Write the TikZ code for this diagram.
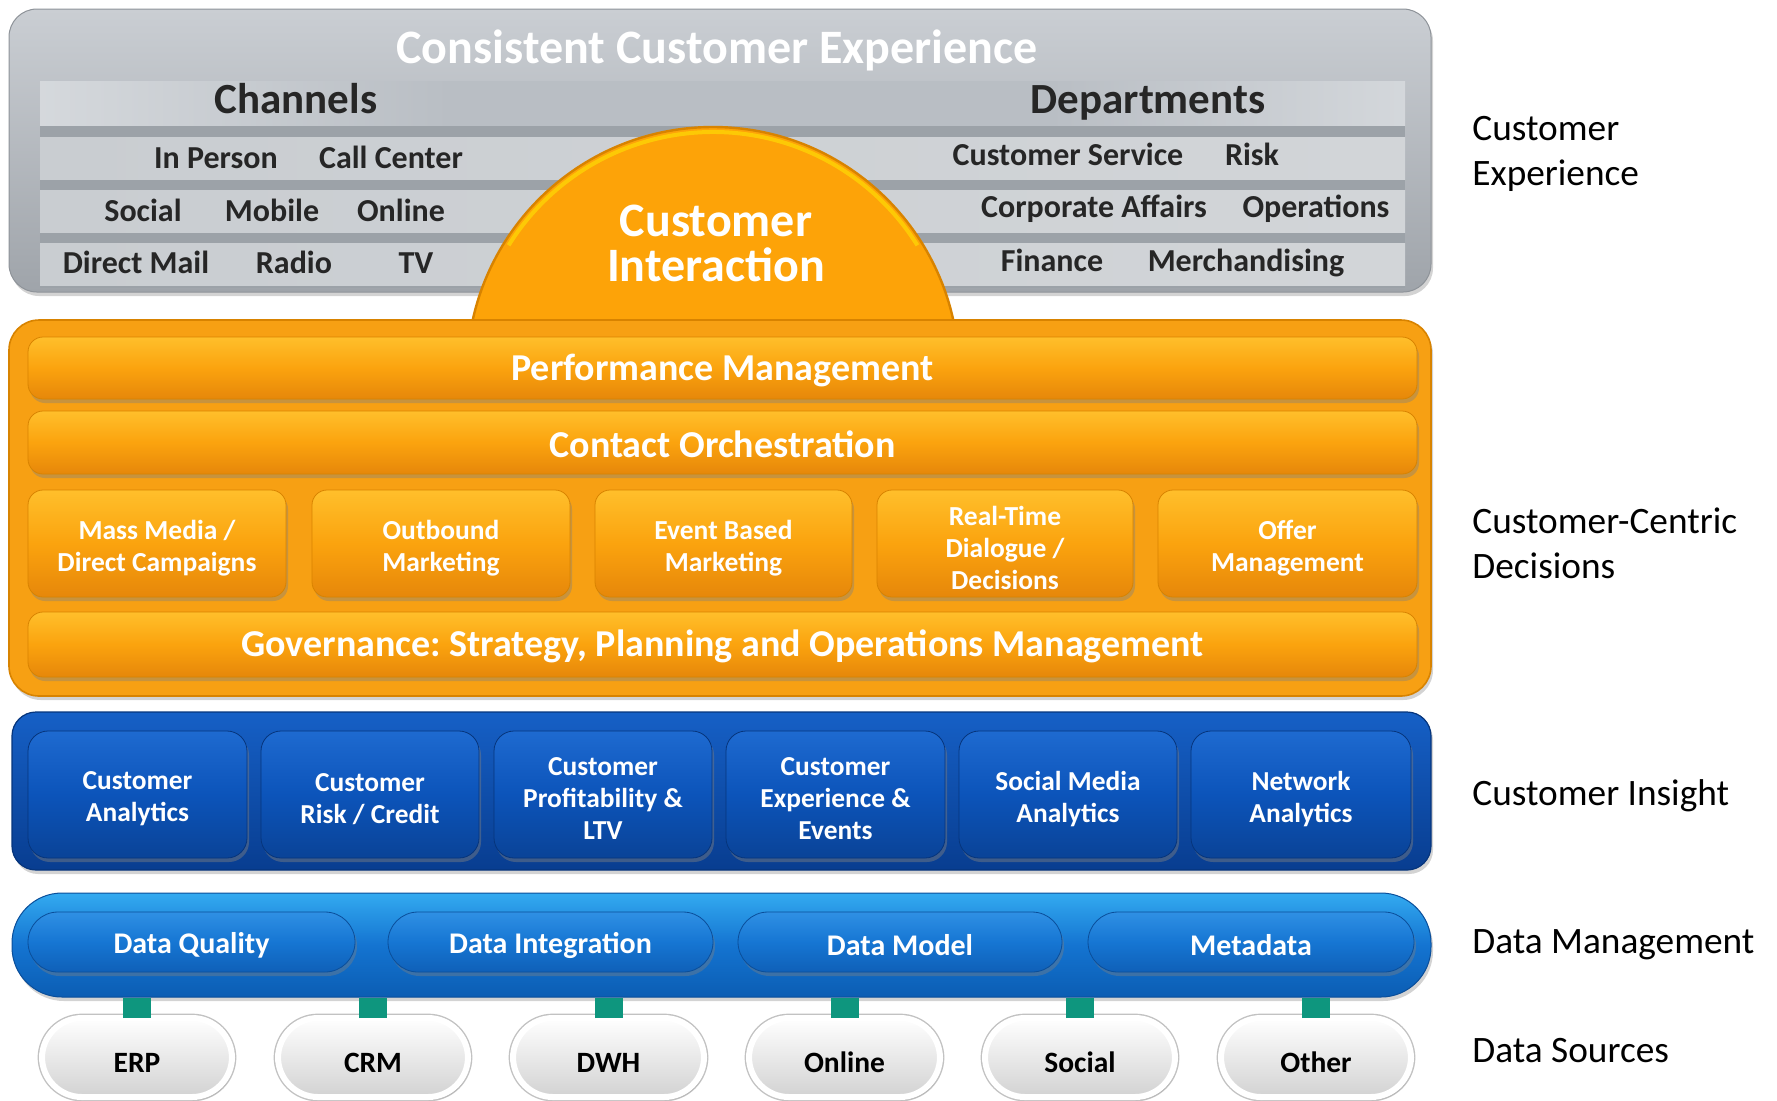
\documentclass[tikz,border=0pt]{standalone}
\usepackage{fontspec}
\setmainfont{Carlito}
\usetikzlibrary{shadows}
\frenchspacing

% palette
\definecolor{gTop}{HTML}{CACED3}
\definecolor{gBot}{HTML}{9FA4AA}
\definecolor{gEdge}{HTML}{8E9399}
\definecolor{gBand}{HTML}{9CA2A8}
\definecolor{gMidBand}{HTML}{B9BEC4}
\definecolor{gHi}{HTML}{E0E3E6}
\definecolor{gStripL}{HTML}{C9CDD1}
\definecolor{gStripR}{HTML}{D2D5D8}
\definecolor{gText}{HTML}{262626}
\definecolor{oMain}{HTML}{F7A013}
\definecolor{oEdge}{HTML}{D88300}
\definecolor{oTop}{HTML}{FFBF2B}
\definecolor{oMid}{HTML}{FBA30E}
\definecolor{oBot}{HTML}{E6870A}
\definecolor{oDome}{HTML}{FDA308}
\definecolor{bTop}{HTML}{1660C6}
\definecolor{bBot}{HTML}{083D90}
\definecolor{bEdge}{HTML}{06357C}
\definecolor{bbTop}{HTML}{1E6AD0}
\definecolor{bbMid}{HTML}{0C54BA}
\definecolor{bbBot}{HTML}{0A4397}
\definecolor{dTop}{HTML}{33AAF0}
\definecolor{dMid}{HTML}{1474D1}
\definecolor{dBot}{HTML}{0B5DB3}
\definecolor{dpTop}{HTML}{2F90E4}
\definecolor{dpMid}{HTML}{1676D3}
\definecolor{dpBot}{HTML}{0F60B8}
\definecolor{dpEdge}{HTML}{0A4E9A}
\definecolor{teal}{HTML}{0E967E}
\definecolor{sBot}{HTML}{D2D2D2}
\definecolor{sRim}{HTML}{C2C2C2}

% header band: light behind "Channels" and behind "Departments"
\pgfdeclarehorizontalshading{headband}{100bp}{%
  color(0bp)=(gMidBand); color(19bp)=(gHi); color(40bp)=(gMidBand);
  color(62bp)=(gMidBand); color(81bp)=(gHi); color(100bp)=(gMidBand)}

% panel from corner (x1,y1) to corner (x2,y2), in picture units
\newcommand\panel[6]{%
  \node[#1, minimum width={(#5-#3)*0.5pt}, minimum height={(#6-#4)*0.5pt}]
    (#2) at ({(#3+#5)/2},{(#4+#6)/2}) {};}
% labelled box: the box, then its caption centred on it
\newcommand\lbox[7]{%
  \panel{#1}{#2}{#3}{#4}{#5}{#6}
  \node[#1 label] (#2-label) at (#2.center) {#7};}

\tikzset{
  every node/.style={inner sep=0pt},
  soft/.style={drop shadow={opacity=0.35, shadow xshift=1pt, shadow yshift=-2pt}},
  gpanel/.style={rounded corners=14pt, top color=gTop, bottom color=gBot, draw=gEdge, line width=0.5pt, soft},
  gtxt/.style={text=gText, font=\bfseries\fontsize{16}{19}\selectfont, anchor=base},
  ghead/.style={text=gText, font=\bfseries\fontsize{21.5}{25}\selectfont, anchor=base},
  opanel/.style={rounded corners=15pt, fill=oMain, draw=oEdge, line width=0.8pt, soft},
  obar/.style={rounded corners=7.5pt, top color=oTop, bottom color=oBot, middle color=oMid, draw=oEdge, line width=0.4pt,
    drop shadow={opacity=0.4, shadow xshift=1pt, shadow yshift=-2pt}},
  obar label/.style={text=white, font=\bfseries\fontsize{19}{22}\selectfont, yshift=-1.1pt},
  obox/.style={obar},
  obox label/.style={text=white, align=center, font=\bfseries\fontsize{13.75}{16}\selectfont, yshift=-2.2pt},
  bpanel/.style={rounded corners=12pt, top color=bTop, bottom color=bBot, draw=bEdge, line width=0.6pt, soft},
  bbox/.style={rounded corners=10pt, top color=bbTop, bottom color=bbBot, middle color=bbMid, draw=bEdge, line width=0.4pt,
    drop shadow={opacity=0.45, shadow xshift=1pt, shadow yshift=-2pt}},
  bbox label/.style={text=white, align=center, font=\bfseries\fontsize{13.7}{16}\selectfont, yshift=-2.2pt},
  dpanel/.style={rounded corners=25pt, top color=dTop, bottom color=dBot, middle color=dMid, draw=dpEdge, line width=0.5pt, soft},
  dpill/.style={rounded corners=15pt, top color=dpTop, bottom color=dpBot, middle color=dpMid, draw=dpEdge, line width=0.4pt,
    drop shadow={opacity=0.4, shadow xshift=1pt, shadow yshift=-2pt}},
  dpill label/.style={text=white, font=\bfseries\fontsize{15}{18}\selectfont, yshift=-1.5pt},
  spill/.style={rounded corners=20pt, top color=white, bottom color=sBot, draw=white, line width=3pt,
    preaction={draw=sRim, line width=4.4pt}, drop shadow={opacity=0.3, shadow xshift=1pt, shadow yshift=-1.5pt}},
  spill label/.style={text=black, font=\bfseries\fontsize{14.75}{18}\selectfont, yshift=-2.6pt},
  conn/.style={draw=teal, line width=14pt},
  side/.style={text=black, font=\fontsize{18.65}{22.5}\selectfont, anchor=base west, align=left},
}

\begin{document}
\begin{tikzpicture}[x=0.5pt,y=-0.5pt]
\useasboundingbox (0,0) rectangle (1777,1100);

% ---------- customer experience (grey) ----------
\panel{gpanel}{cx}{9}{9}{1431}{292}
\fill[gBand] (40,125) rectangle (1405,288);
\fill[left color=gStripL, right color=gStripR] (40,137) rectangle (1405,179);
\fill[left color=gStripL, right color=gStripR] (40,190) rectangle (1405,232);
\fill[left color=gStripL, right color=gStripR] (40,243) rectangle (1405,285);
\shade[shading=headband] (40,81) rectangle (1405,125);

\node[text=white, font=\bfseries\fontsize{24}{28}\selectfont, anchor=base] (title) at (717,63) {Consistent Customer Experience};
\node[ghead] (chan) at (296,113) {Channels};
\node[ghead] (dept) at (1148,113) {Departments};

\node[gtxt] (inperson) at (216,168) {In Person};
\node[gtxt] (callc) at (391,168) {Call Center};
\node[gtxt] (social) at (143,221) {Social};
\node[gtxt] (mobile) at (272,221) {Mobile};
\node[gtxt] (online) at (401,221) {Online};
\node[gtxt] (dmail) at (136,273) {Direct Mail};
\node[gtxt] (radio) at (294,273) {Radio};
\node[gtxt] (tv) at (416,273) {TV};

\node[gtxt] (custserv) at (1068,165) {Customer Service};
\node[gtxt] (risk) at (1252,165) {Risk};
\node[gtxt] (corp) at (1094,217) {Corporate Affairs};
\node[gtxt] (ops) at (1316,217) {Operations};
\node[gtxt] (fin) at (1052,271) {Finance};
\node[gtxt] (merch) at (1246,271) {Merchandising};

% ---------- customer interaction dome ----------
\node[circle, minimum size=246pt, fill=oDome, draw=oEdge, line width=1.2pt] (dome) at (713,373) {};
\draw[yellow!75!orange, line width=2pt, opacity=0.75] (dome.center) ++(148:120.5pt) arc[start angle=148, end angle=32, radius=120.5pt];
\node[text=white, font=\bfseries\fontsize{24}{22.5}\selectfont, align=center, anchor=base] (ci) at (716,281) {Customer\\Interaction};

% ---------- customer-centric decisions (orange) ----------
\panel{opanel}{ccd}{9}{320}{1431}{696}
\lbox{obar}{perf}{28}{337}{1417}{399}{Performance Management}
\lbox{obar}{contact}{28}{411}{1417}{474}{Contact Orchestration}
\lbox{obox}{mass}{28}{490}{286}{597}{Mass Media /\\Direct Campaigns}
\lbox{obox}{outb}{312}{490}{570}{597}{Outbound\\Marketing}
\lbox{obox}{event}{595}{490}{852}{597}{Event Based\\Marketing}
\lbox{obox}{rt}{877}{490}{1133}{597}{Real-Time\\Dialogue /\\Decisions}
\lbox{obox}{offer}{1158}{490}{1417}{597}{Offer\\Management}
\lbox{obar}{gov}{28}{612}{1417}{677}{Governance: Strategy, Planning and Operations Management}

% ---------- customer insight (dark blue) ----------
\panel{bpanel}{ins}{12}{712}{1431}{870}
\lbox{bbox}{ca}{28}{731}{247}{858}{Customer\\Analytics}
\lbox{bbox}{cr}{261}{731}{479}{858}{Customer\\Risk / Credit}
\lbox{bbox}{cp}{494}{731}{712}{858}{Customer\\Profitability \&\\LTV}
\lbox{bbox}{ce}{726}{731}{945}{858}{Customer\\Experience \&\\Events}
\lbox{bbox}{sm}{959}{731}{1177}{858}{Social Media\\Analytics}
\lbox{bbox}{na}{1191}{731}{1411}{858}{Network\\Analytics}

% ---------- data sources ----------
\lbox{spill}{erp}{42}{1018}{232}{1097}{ERP}
\lbox{spill}{crm}{278}{1018}{468}{1097}{CRM}
\lbox{spill}{dwh}{513}{1018}{704}{1097}{DWH}
\lbox{spill}{sonline}{749}{1018}{940}{1097}{Online}
\lbox{spill}{ssocial}{985}{1018}{1175}{1097}{Social}
\lbox{spill}{other}{1221}{1018}{1411}{1097}{Other}

% ---------- data management (light blue) ----------
\panel{dpanel}{dm}{12}{893}{1431}{997}
\lbox{dpill}{dq}{28}{912}{355}{972}{Data Quality}
\lbox{dpill}{di}{388}{912}{713}{972}{Data Integration}
\lbox{dpill}{dmod}{738}{912}{1062}{972}{Data Model}
\lbox{dpill}{meta}{1088}{912}{1414}{972}{Metadata}

% links from each source up to the data management layer
\foreach \s in {erp,crm,dwh,sonline,ssocial,other}
  \draw[conn] ([yshift=-1.6pt]\s.north) -- (\s.north |- dm.south);

% ---------- layer labels ----------
\node[side] (lcx) at (1472,185) {Customer\\Experience};
\node[side] (lccd) at (1472,578) {Customer-Centric\\Decisions};
\node[side] (lins) at (1472,805) {Customer Insight};
\node[side] (ldm) at (1472,953) {Data Management};
\node[side] (lds) at (1472,1062) {Data Sources};
\end{tikzpicture}
\end{document}
